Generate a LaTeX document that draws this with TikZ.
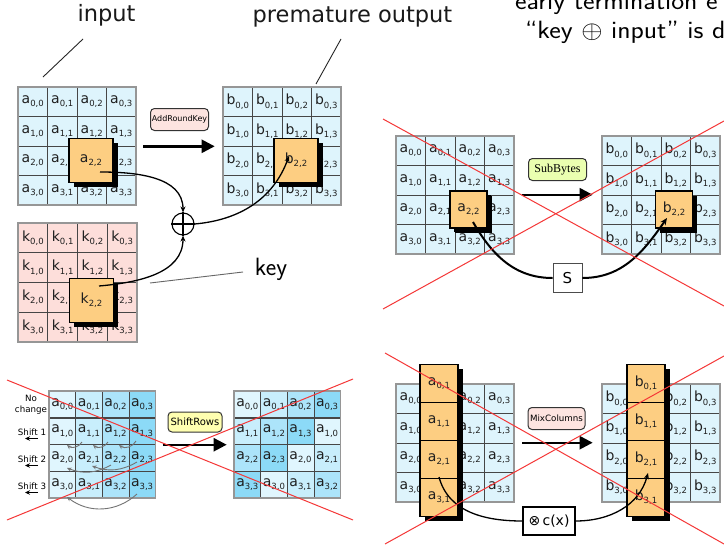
\documentclass[tikz,border=0pt]{standalone}
\usepackage{fontspec}
\usepackage{graphicx}
\usetikzlibrary{arrows.meta,shadows,calc}
\newfontfamily\dejavu{DejaVu Sans}
\newfontfamily\timesf{Liberation Serif}

\definecolor{cellblue}{RGB}{222,244,252}
\definecolor{cellpink}{RGB}{253,222,218}
\definecolor{hot}{RGB}{253,206,130}
\definecolor{gridline}{RGB}{70,70,70}
\definecolor{gridframe}{RGB}{150,150,150}
\definecolor{pinkbox}{RGB}{253,228,224}
\definecolor{greenbox}{RGB}{234,255,176}
\definecolor{yellowbox}{RGB}{255,255,176}
\definecolor{xred}{RGB}{245,55,55}
\definecolor{sr0}{RGB}{224,246,254}
\definecolor{sr1}{RGB}{200,238,252}
\definecolor{sr2}{RGB}{172,228,250}
\definecolor{sr3}{RGB}{140,218,247}

% entry with a subscript, e.g. a_{0,0}
\newcommand\ent[2]{#1\raisebox{-3.3pt}{\fontsize{8.5}{8.5}\selectfont #2}}

% 4x4 state: name prefix, letter, left, top, cell size, fill
\newcommand\statematrix[6]{%
  \foreach \r in {0,...,3}{%
    \foreach \c in {0,...,3}{%
      \node[cell,fill=#6,minimum size=#5pt] (#1-\r-\c)
        at ({#3+(\c+0.5)*#5},{#4+(\r+0.5)*#5}) {\ent{#2}{\r,\c}};
    }%
  }%
  \draw[frame] (#3,#4) rectangle ++({4*#5},{4*#5});
}

\tikzset{
  cell/.style={draw=gridline,line width=0.6pt,inner sep=0pt,
    font=\dejavu\fontsize{14}{14}\selectfont,text=black!88},
  frame/.style={draw=gridframe,line width=1.1pt},
  hotcell/.style={draw=black,line width=1.1pt,fill=hot,inner sep=0pt,
    font=\dejavu\fontsize{14}{14}\selectfont,text=black!88,
    drop shadow={shadow xshift=4.5pt,shadow yshift=-4.5pt,fill=black,opacity=1}},
  steplabel/.style={draw=black!80,line width=1pt,rounded corners=4pt,
    minimum width=58pt,minimum height=22pt,inner sep=0.5pt,
    font=\dejavu\fontsize{8}{8}\selectfont},
  bigarrow/.style={line width=2.4pt,-{Triangle[length=13pt,width=13pt]}},
  link/.style={line width=1.3pt,-{Stealth[length=6pt,width=5pt]}},
  plainlink/.style={line width=1.3pt},
  slink/.style={line width=2pt},
  figlabel/.style={font=\dejavu\fontsize{22.5}{27}\selectfont,inner sep=0pt,text=black!90},
  big/.style={font=\sffamily\fontsize{25}{30}\selectfont,inner sep=0pt},
  lead/.style={draw=black!85,line width=0.9pt},
  grayarc/.style={draw=black!55,line width=0.9pt,-{Stealth[length=4.5pt,width=4pt]}},
  rowlbl/.style={font=\dejavu\fontsize{8.7}{11}\selectfont,inner sep=0pt,align=center},
  rowarrow/.style={line width=1.3pt,-{Stealth[length=5pt,width=4.5pt]}},
  cross/.style={draw=xred,line width=1pt},
}

\begin{document}
\begin{tikzpicture}[x=1pt,y=-1pt]
\useasboundingbox (0,0) rectangle (724,546);
\fill[white] (0,0) rectangle (724,546);

% ---------------- AddRoundKey ----------------
\statematrix{A}{a}{18}{87}{29.5}{cellblue}
\statematrix{B}{b}{223}{87}{29.5}{cellblue}
\statematrix{K}{k}{18}{223}{29.75}{cellpink}
\node[hotcell,minimum size=44pt] (A22) at (91,160.5) {\ent{a}{2,2}};
\node[hotcell,minimum size=44pt] (B22) at (296,160.5) {\ent{b}{2,2}};
\node[hotcell,minimum size=44pt] (K22) at (91.5,300.5) {\ent{k}{2,2}};

\node[steplabel,fill=pinkbox] (ark) at (179.5,119.5) {AddRoundKey};
\draw[bigarrow] ($(A-1-3.south east)+(7,0)$) -- ($(B-1-0.south west)+(-8,0)$);

\node[circle,draw,line width=1.1pt,minimum size=22pt,inner sep=0pt] (xor) at (183,224) {};
\draw[line width=1.1pt] (xor.north) -- (xor.south) (xor.west) -- (xor.east);
\draw[link] ($(A22.center)+(9,11.5)$) to[out=0,in=90] (xor.north);
\draw[link] ($(K22.center)+(7.5,-14.5)$) to[out=5,in=-90] (xor.south);
\draw[link] (xor.east) to[out=5,in=-110] ($(B22.center)+(-7,-4.5)$);

\node[figlabel,anchor=base] (inlbl) at (106.5,21.5) {input};
\coordinate (in1) at (83,39); \coordinate (in2) at (43,77);
\draw[lead] (in1) -- (in2);
\node[figlabel,anchor=base] (outlbl) at (352.5,22) {premature output};
\coordinate (out1) at (341,39); \coordinate (out2) at (316,84);
\draw[lead] (out1) -- (out2);
\node[big,anchor=base] (keylbl) at (271,275) {key};
\coordinate (key1) at (243,272); \coordinate (key2) at (150,283);
\draw[lead,draw=black!60] (key1) -- (key2);

\node[big,anchor=base west] (note1) at (515,9.5) {\scalebox{1.1}[1]{early termination e}};
\node[big,anchor=base west] (note2) at (525,38) {\scalebox{1.1}[1]{``key $\oplus$ input'' is d}};

% ---------------- SubBytes ----------------
\statematrix{SA}{a}{396}{136}{29.5}{cellblue}
\statematrix{SB}{b}{602}{136}{29.5}{cellblue}
\node[hotcell,minimum size=37pt,drop shadow={shadow xshift=4pt,shadow yshift=-4pt,fill=black,opacity=1}] (SA22) at (468.5,209.5) {\ent{a}{2,2}};
\node[hotcell,minimum size=37pt] (SB22) at (674,209.5) {\ent{b}{2,2}};
\node[steplabel,fill=greenbox,font=\timesf\fontsize{12}{12}\selectfont] (sbl) at (557.5,169.5) {SubBytes};
\draw[bigarrow] ($(SA-2-3.north east)+(8,0)$) -- ($(SB-2-0.north west)+(-9,0)$);
\node[draw=black!70,line width=0.9pt,fill=white,minimum size=29pt,inner sep=0pt,
  font=\dejavu\fontsize{15}{15}\selectfont] (sbox) at (567.5,278) {S};
\draw[slink] ($(SA22.center)+(4.5,12.5)$) to[out=-60,in=180] (sbox.west);
\draw[slink,-{Stealth[length=7pt,width=6pt]}] (sbox.east) to[out=0,in=-125] ($(SB22.center)+(-7,8.5)$);

% ---------------- ShiftRows ----------------
\foreach \r in {0,...,3}{%
  \foreach \c in {0,...,3}{%
    \node[cell,fill=sr\c,minimum size=26.6pt] (RA-\r-\c)
      at ({49+(\c+0.5)*26.6},{391+(\r+0.5)*26.75}) {\ent{a}{\r,\c}};
    \pgfmathtruncatemacro\k{mod(\c+\r,4)}
    \node[cell,fill=sr\k,minimum size=26.6pt] (RB-\r-\c)
      at ({234+(\c+0.5)*26.6},{391+(\r+0.5)*26.75}) {\ent{a}{\r,\k}};
  }%
}
\draw[frame] (49,391) rectangle (155.4,498);
\draw[frame] (234,391) rectangle (340.4,498);

% shifting arcs
\draw[grayarc] (82,442) to[bend left=50] (67,445);
\draw[grayarc] (108,442) to[bend left=50] (93,445);
\draw[grayarc] (136,441) to[bend left=50] (119,445);
\draw[grayarc] (111,465) to[bend left=25] (67,468);
\draw[grayarc] (137,462) to[bend left=25] (92,466);
\draw[grayarc] (137,494) to[bend left=40] (67,497);

\node[rowlbl] (nochg) at (31,405) {No\\change};
\node[rowlbl] (sh1) at (32,432) {Shift 1};
\node[rowlbl] (sh2) at (32,459) {Shift 2};
\node[rowlbl] (sh3) at (32,486) {Shift 3};
\foreach \n/\yy in {1/438.5,2/465.5,3/492.5}{%
  \coordinate (sa\n) at (38,\yy); \coordinate (sb\n) at (25,\yy);
  \draw[rowarrow] (sa\n) -- (sb\n);
}

\node[steplabel,fill=yellowbox,minimum width=54pt,minimum height=20pt,
  font=\dejavu\fontsize{10}{10}\selectfont] (srl) at (195,422) {ShiftRows};
\draw[bigarrow] ($(RA-1-3.south east)+(7,0)$) -- ($(RB-1-0.south west)+(-7,0)$);

% ---------------- MixColumns ----------------
\statematrix{MA}{a}{396}{384}{29.5}{cellblue}
\statematrix{MB}{b}{602}{384}{29.5}{cellblue}
\foreach \r in {0,...,3}{%
  \node[hotcell,minimum size=38pt] (MA\r) at (439,{383.5+38*\r}) {\ent{a}{\r,1}};
  \node[hotcell,minimum size=38pt] (MB\r) at (646,{383.5+38*\r}) {\ent{b}{\r,1}};
}
\node[steplabel,fill=pinkbox,minimum width=57pt,
  font=\dejavu\fontsize{8.7}{8.7}\selectfont] (mcl) at (556.5,418.5) {MixColumns};
\draw[bigarrow] ($(MA-2-3.north east)+(8,0)$) -- ($(MB-2-0.north west)+(-9,0)$);
\node[draw=black,line width=1.2pt,fill=white,minimum width=52pt,minimum height=28pt,
  inner sep=0pt,font=\dejavu\fontsize{14}{14}\selectfont] (cx) at (549,521) {⊗\,c(x)};
\draw[plainlink] ($(MA2.center)+(0,17.5)$) to[out=-75,in=180] (cx.west);
\draw[link] (cx.east) to[out=0,in=-105] ($(MB2.center)+(2,13.5)$);

% ---------------- crossed-out panels ----------------
\draw[cross] (383,119) -- (724,306);
\draw[cross] (383,309) -- (724,121);
\draw[cross] (7,380) -- (353,520);
\draw[cross] (7,520) -- (353,379);
\draw[cross] (385,353) -- (724,544);
\draw[cross] (385,544) -- (724,356);
\end{tikzpicture}
\end{document}
